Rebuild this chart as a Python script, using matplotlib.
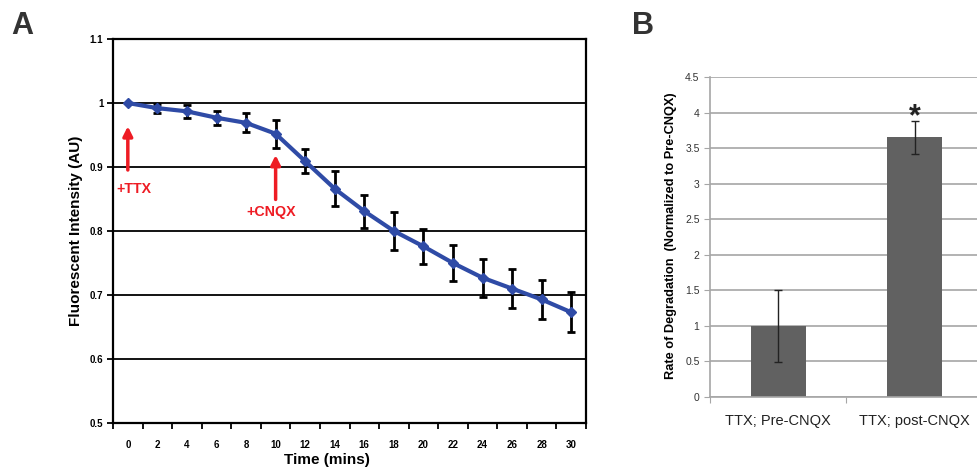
import numpy as np
import matplotlib.pyplot as plt

plt.rcParams['font.family'] = ['Liberation Sans', 'DejaVu Sans']

# Panel A: fluorescence over time
time_min = [0, 2, 4, 6, 8, 10, 12, 14, 16, 18, 20, 22, 24, 26, 28, 30]
intensity = [1.0, 0.992, 0.987, 0.977, 0.969, 0.952, 0.909, 0.866, 0.831,
             0.800, 0.776, 0.750, 0.727, 0.710, 0.693, 0.673]
intensity_err = [0.0, 0.007, 0.010, 0.011, 0.015, 0.022, 0.019, 0.027, 0.026,
                 0.030, 0.027, 0.028, 0.030, 0.030, 0.031, 0.031]

# Panel B: degradation rate
conditions = ['TTX; Pre-CNQX', 'TTX; post-CNQX']
rates = [1.0, 3.65]
rate_err = [0.51, 0.23]

BLUE = '#2f4ba6'
RED = '#ee1c24'

fig = plt.figure(figsize=(9.77, 4.73), dpi=100)

# ---- Panel A ----
axA = fig.add_axes([0.1157, 0.1057, 0.4841, 0.8118])
axA.set_xlim(-1, 31)
axA.set_ylim(0.5, 1.1)
for y in np.arange(0.6, 1.05, 0.1):
    axA.axhline(y, color='black', lw=1.3, zorder=1)
axA.errorbar(time_min, intensity, yerr=intensity_err, fmt='none',
             ecolor='black', elinewidth=2, capsize=3, capthick=2, zorder=2)
axA.plot(time_min, intensity, color=BLUE, lw=3, marker='D', ms=5.5,
         mec=BLUE, mfc=BLUE, zorder=3)

axA.set_yticks([0.5, 0.6, 0.7, 0.8, 0.9, 1.0, 1.1])
axA.set_yticklabels(['0.5', '0.6', '0.7', '0.8', '0.9', '1', '1.1'],
                    fontsize=7, fontweight='bold')
axA.set_xticks(np.arange(-1, 32, 2))
axA.set_xticklabels([])
axA.set_xticks(time_min, minor=True)
axA.set_xticklabels([str(t) for t in time_min], minor=True,
                    fontsize=7, fontweight='bold')
axA.tick_params(axis='x', which='minor', length=0, pad=12)
axA.tick_params(axis='x', which='major', length=4, width=1.3, direction='out')
axA.tick_params(axis='y', length=4, width=1.3, direction='out', pad=3)
for sp in axA.spines.values():
    sp.set_linewidth(1.6)
axA.set_xlabel('Time (mins)', fontsize=11, fontweight='bold')
axA.xaxis.set_label_coords(0.452, -0.078)
axA.set_ylabel('Fluorescent Intensity (AU)', fontsize=11, fontweight='bold')
axA.yaxis.set_label_coords(-0.063, 0.5)

axA.annotate('', xy=(0, 0.968), xytext=(0, 0.891),
             arrowprops=dict(arrowstyle='-|>', color=RED, lw=2.5,
                             mutation_scale=14))
axA.text(0.4, 0.866, '+TTX', color=RED, fontsize=10.2, fontweight='bold',
         ha='center', va='center')
axA.annotate('', xy=(10, 0.923), xytext=(10, 0.845),
             arrowprops=dict(arrowstyle='-|>', color=RED, lw=2.5,
                             mutation_scale=14))
axA.text(9.7, 0.830, '+CNQX', color=RED, fontsize=10.3, fontweight='bold',
         ha='center', va='center')

# ---- Panel B ----
axB = fig.add_axes([0.7267, 0.1607, 0.2794, 0.6765])
axB.set_xlim(-0.5, 1.5)
axB.set_ylim(0, 4.5)
axB.set_yticks(np.arange(0, 4.6, 0.5))
axB.set_yticklabels(['0', '0.5', '1', '1.5', '2', '2.5', '3', '3.5', '4', '4.5'],
                    fontsize=7.5, color='#333333')
axB.grid(axis='y', color='#a6a6a6', lw=1.2)
axB.set_axisbelow(True)
x = np.arange(len(conditions))
axB.bar(x, rates, width=0.4, color='#616161', zorder=2)
axB.errorbar(x, rates, yerr=rate_err, fmt='none', ecolor='#222222',
             elinewidth=1, capsize=3, capthick=1, zorder=3)
axB.text(1, 3.93, '*', fontsize=22, fontweight='bold', ha='center',
         va='center', color='#222222')
axB.set_xticks([-0.5, 0.5, 1.5])
axB.set_xticklabels([])
axB.set_xticks(x, minor=True)
axB.set_xticklabels(conditions, minor=True, fontsize=10.5, color='#222222')
axB.tick_params(axis='x', which='minor', length=0, pad=12)
axB.tick_params(axis='x', which='major', length=4, color='#a6a6a6')
axB.tick_params(axis='y', length=4, color='#a6a6a6')
for side in ['top', 'right']:
    axB.spines[side].set_visible(False)
for side in ['left', 'bottom']:
    axB.spines[side].set_color('#a6a6a6')
    axB.spines[side].set_linewidth(1.2)
axB.set_ylabel('Rate of Degradation  (Normalized to Pre-CNQX)', fontsize=9.2,
               fontweight='bold')
axB.yaxis.set_label_coords(-0.122, 0.505)

fig.text(0.012, 0.945, 'A', fontsize=22, fontweight='bold', color='#333333',
         va='center')
fig.text(0.647, 0.945, 'B', fontsize=22, fontweight='bold', color='#333333',
         va='center')

fig.savefig('out.png', dpi=100)
